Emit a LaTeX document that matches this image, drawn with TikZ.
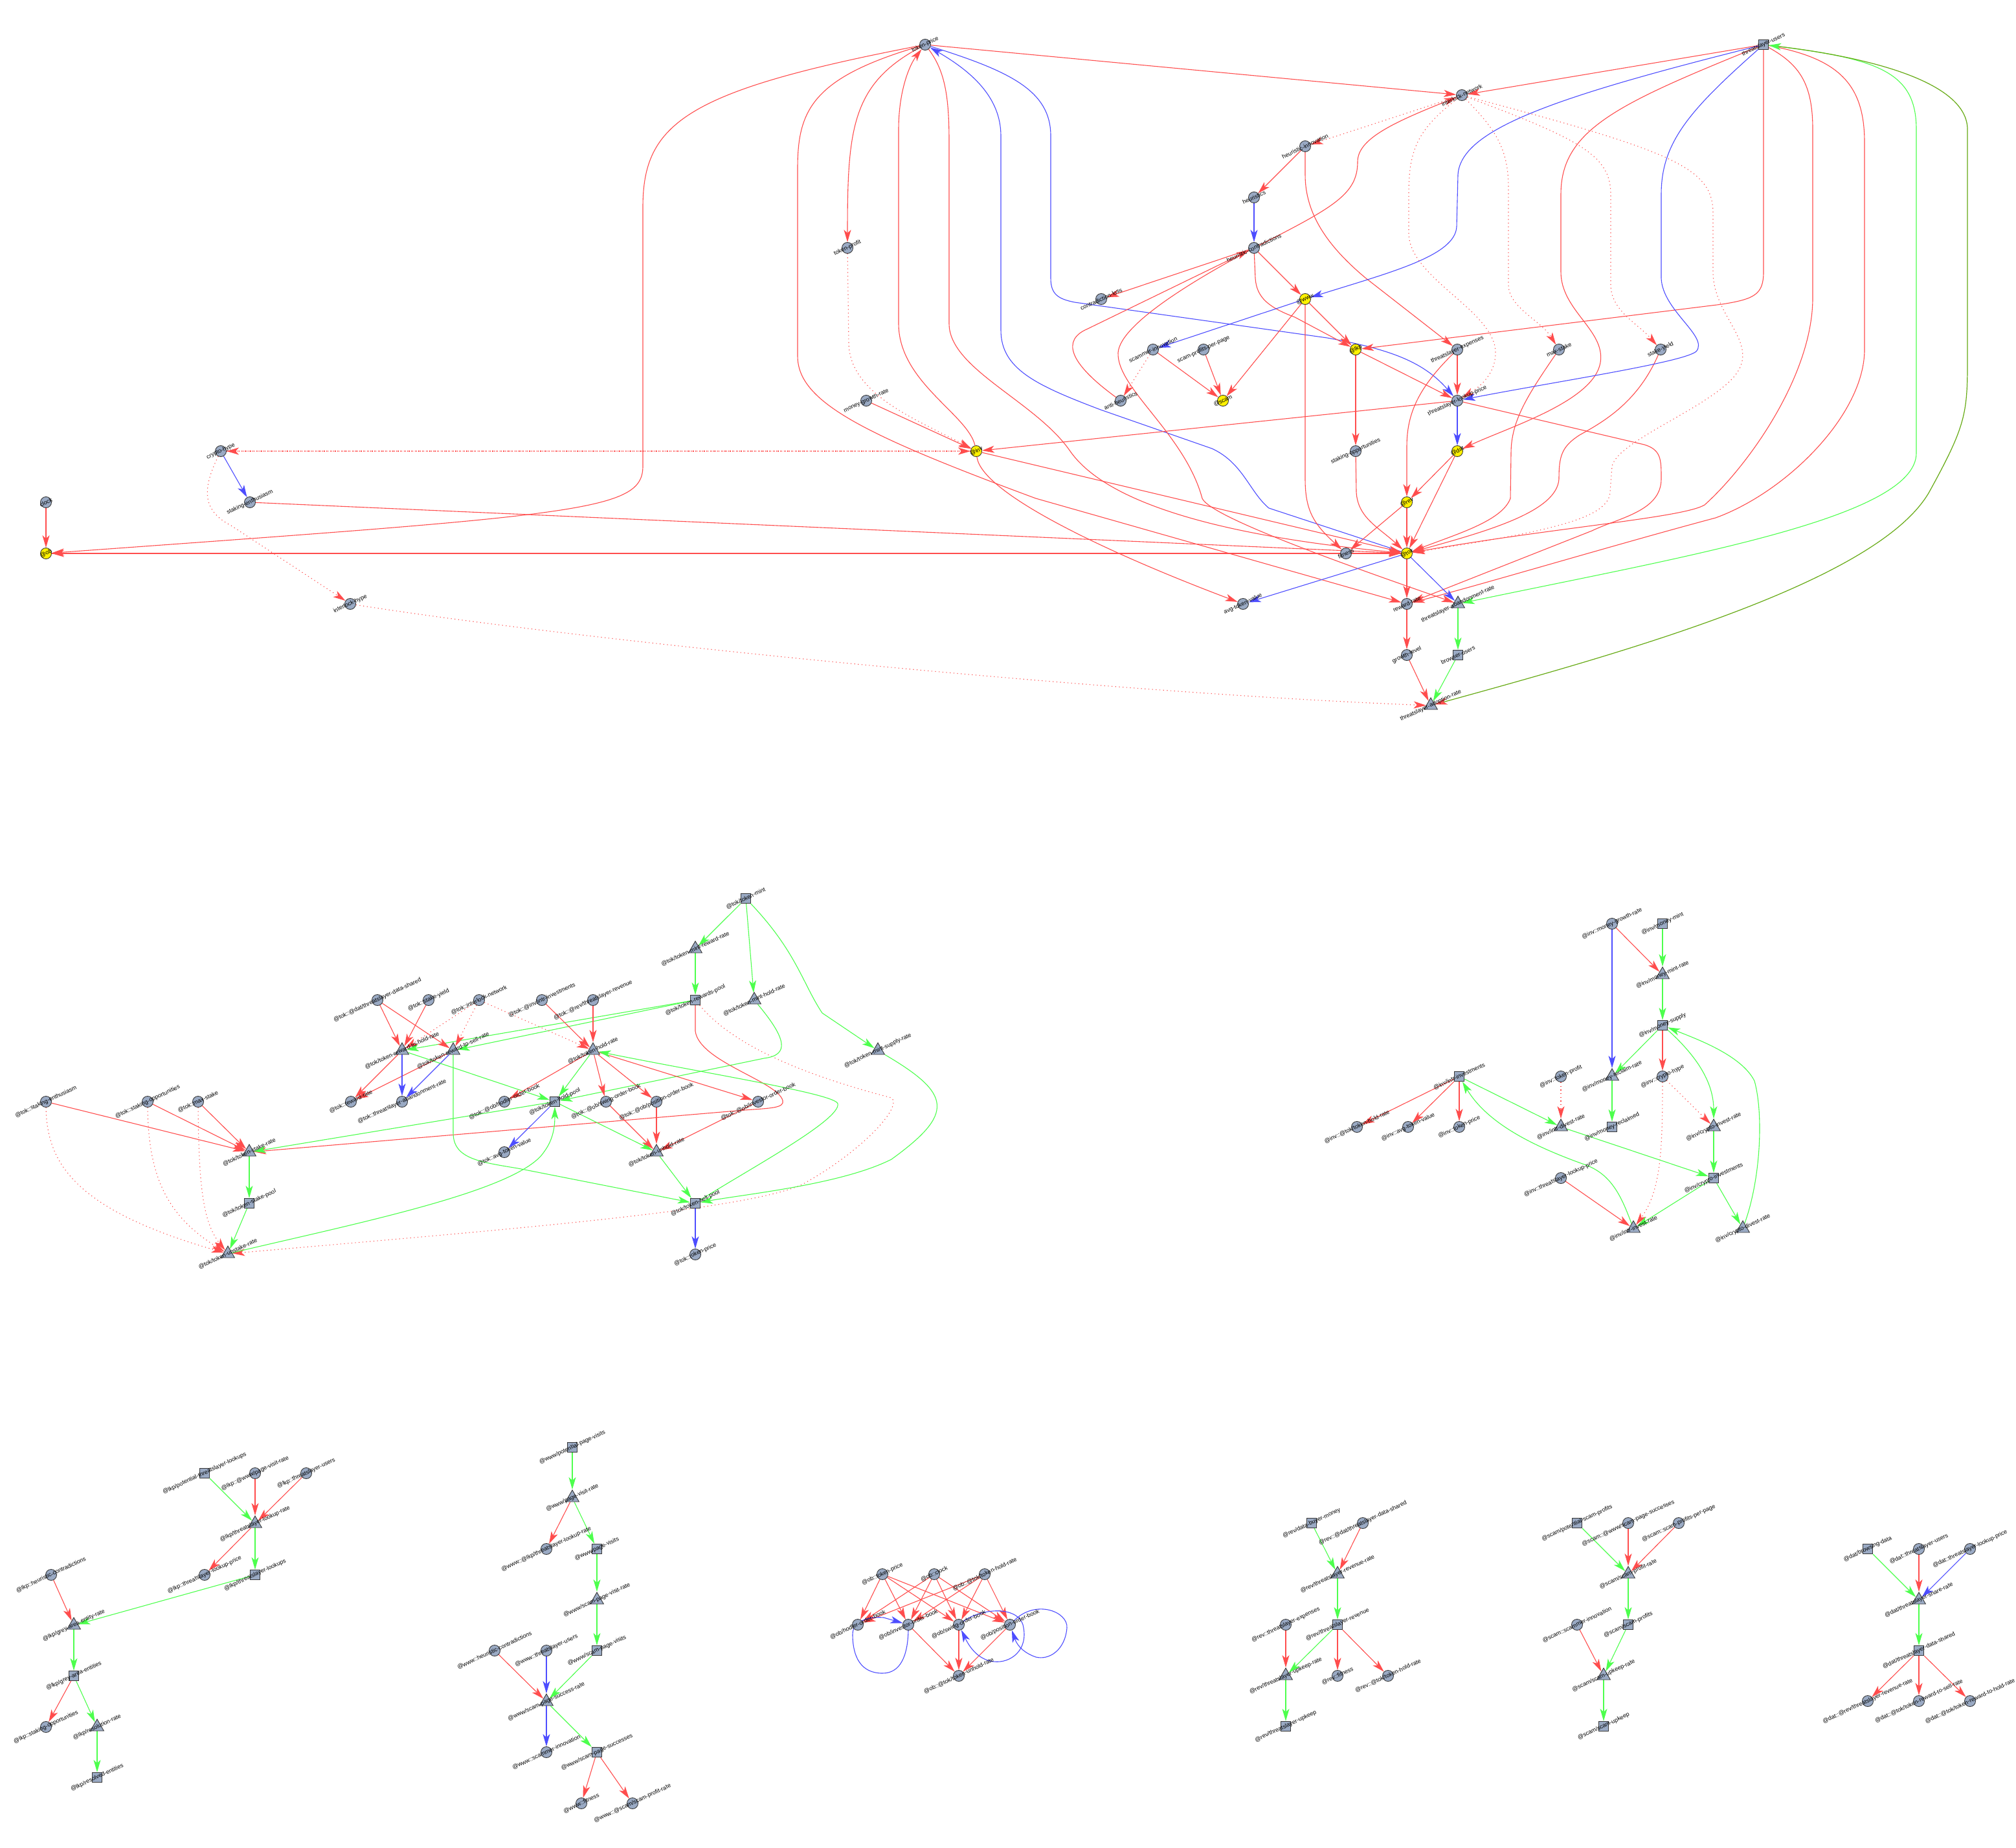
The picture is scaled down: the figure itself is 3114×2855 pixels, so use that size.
\documentclass[tikz,border=0pt]{standalone}
\usepackage{fontspec}
\setmainfont{Liberation Sans}
\usetikzlibrary{arrows.meta,shapes.geometric}
\definecolor{nfill}{RGB}{154,170,196}
\definecolor{nline}{RGB}{55,55,55}
\definecolor{cr}{RGB}{255,77,77}
\definecolor{cg}{RGB}{77,255,77}
\definecolor{cb}{RGB}{77,77,255}
\definecolor{colive}{RGB}{102,170,20}
\pgfdeclarelayer{bg}\pgfdeclarelayer{paper}\pgfsetlayers{paper,bg,main}
\tikzset{
  cn/.style={circle, draw=nline, fill=nfill, line width=0.9pt, minimum size=17pt, inner sep=0pt},
  yn/.style={cn, fill=yellow},
  sn/.style={rectangle, draw=nline, fill=nfill, line width=1.3pt, minimum size=15pt, inner sep=0pt},
  tn/.style={regular polygon, regular polygon sides=3, draw=nline, fill=nfill, line width=0.9pt, minimum size=24pt, inner sep=0pt},
  lb/.style={font=\fontsize{9}{9}\selectfont, rotate=25, inner sep=0pt},
  tipa/.style={-{Stealth[length=19pt,width=11pt,inset=5pt]}},
  re/.style={draw=cr, line width=1.1pt, tipa},
  gr/.style={draw=cg, line width=1.1pt, tipa},
  bl/.style={draw=cb, line width=1.1pt, tipa},
  rd/.style={re, dash pattern=on 1.2pt off 4.5pt},
}
\newcommand{\nd}[4]{\node[#1] (#2) at (#3) {};\node[lb] (#2t) at (#3) {#4};}
\begin{document}
\begin{tikzpicture}[x=1pt,y=-1pt]
\useasboundingbox (0,0) rectangle (3114,2855);
\begin{pgfonlayer}{paper}
\fill[white] (0,0) rectangle (3114,2855);
\end{pgfonlayer}
% ================= TOP GRAPH =================
\nd{cn}{TP}{1429,69}{token-price}
\nd{cn}{IN}{2258,147}{interlock-network}
\nd{sn}{TU}{2724,69}{threatslayer-users}
\nd{cn}{HI}{2016,226}{heuristic-innovation}
\nd{cn}{HE}{1937,305}{heuristics}
\nd{cn}{TPR}{1309,383}{token-profit}
\nd{cn}{HC}{1937,383}{heuristic-contradictions}
\nd{cn}{CL}{1701,462}{contradiction-loss}
\nd{yn}{WWW}{2016,462}{@www}
\nd{cn}{SI}{1781,540}{scammer-innovation}
\nd{cn}{SPP}{1859,540}{scam-profits-per-page}
\nd{yn}{LKP}{2094,540}{@lkp}
\nd{cn}{TE}{2251,540}{threatslayer-expenses}
\nd{cn}{MS}{2408,540}{max-stake}
\nd{cn}{SY}{2565,540}{stake-yield}
\nd{cn}{AH}{1731,619}{anti-heuristics}
\nd{yn}{SCAM}{1889,619}{@scam}
\nd{cn}{MGR}{1338,619}{money-growth-rate}
\nd{cn}{TLP}{2251,619}{threatslayer-lookup-price}
\nd{cn}{CH}{341,697}{crypto-hype}
\nd{yn}{INV}{1508,697}{@inv}
\nd{cn}{SO}{2094,697}{staking-opportunities}
\nd{yn}{DAT}{2251,697}{@dat}
\nd{cn}{SE}{386,776}{staking-enthusiasm}
\nd{cn}{CLK}{71,776}{clock}
\nd{yn}{REV}{2173,776}{@rev}
\nd{yn}{OB}{71,855}{@ob}
\nd{cn}{FIT}{2079,855}{fitness}
\nd{yn}{TOK}{2173,855}{@tok}
\nd{cn}{IH}{541,933}{interlock-hype}
\nd{cn}{ATV}{1920,933}{avg-token-value}
\nd{cn}{RR}{2173,933}{reward-rate}
\nd{tn}{TAR}{2252,933}{threatslayer-abandonment-rate}
\nd{cn}{GL}{2173,1012}{growth-level}
\nd{sn}{BU}{2252,1012}{browser-users}
\nd{tn}{TAD}{2210,1090}{threatslayer-adoption-rate}
% ================= @tok GRAPH =================
\nd{sn}{kmint}{1152,1388}{@tok/token-mint}
\nd{tn}{kmrr}{1074,1466}{@tok/token-mint-reward-rate}
\nd{sn}{krwp}{1074,1545}{@tok/token-rewards-pool}
\nd{tn}{kmhr}{1165,1545}{@tok/token-mint-hold-rate}
\nd{tn}{kmsr}{1356,1623}{@tok/token-mint-supply-rate}
\nd{cn}{kds}{583,1545}{@tok::@dat/threatslayer-data-shared}
\nd{cn}{ksy}{662,1545}{@tok::stake-yield}
\nd{cn}{kin}{740,1545}{@tok::interlock-network}
\nd{cn}{kii}{837,1545}{@tok::@inv/intr-investments}
\nd{cn}{ktr}{916,1545}{@tok::@rev/threatslayer-revenue}
\nd{tn}{krhr}{621,1623}{@tok/token-reward-to-hold-rate}
\nd{tn}{krsr}{700,1623}{@tok/token-reward-to-sell-rate}
\nd{tn}{khr}{916,1623}{@tok/token-hold-rate}
\nd{cn}{kse}{71,1702}{@tok::staking-enthusiasm}
\nd{cn}{kso}{228,1702}{@tok::staking-opportunities}
\nd{cn}{kms}{306,1702}{@tok::max-stake}
\nd{cn}{krr}{542,1702}{@tok::reward-rate}
\nd{cn}{ktar}{621,1702}{@tok::threatslayer-abandonment-rate}
\nd{cn}{khob}{779,1702}{@tok::@ob/hodler-order-book}
\nd{sn}{khp}{857,1702}{@tok/token-hold-pool}
\nd{cn}{ksob}{936,1702}{@tok::@ob/swing-order-book}
\nd{cn}{kpob}{1014,1702}{@tok::@ob/position-order-book}
\nd{cn}{kiob}{1171,1702}{@tok::@ob/investor-order-book}
\nd{tn}{kstr}{385,1780}{@tok/token-stake-rate}
\nd{cn}{katv}{779,1780}{@tok::avg-token-value}
\nd{tn}{kuhr}{1014,1780}{@tok/token-unhold-rate}
\nd{sn}{ksp}{385,1859}{@tok/token-stake-pool}
\nd{sn}{kslp}{1074,1859}{@tok/token-sell-pool}
\nd{tn}{kusr}{352,1937}{@tok/token-unstake-rate}
\nd{cn}{ktp}{1074,1938}{@tok::token-price}
% ================= @inv GRAPH =================
\nd{cn}{vmgr}{2490,1427}{@inv::money-growth-rate}
\nd{sn}{vmm}{2568,1427}{@inv/money-mint}
\nd{tn}{vmmr}{2568,1506}{@inv/money-mint-rate}
\nd{sn}{vms}{2568,1584}{@inv/money-supply}
\nd{sn}{vii}{2254,1663}{@inv/intr-investments}
\nd{cn}{vtp}{2411,1663}{@inv::token-profit}
\nd{tn}{vmrr}{2490,1663}{@inv/money-reclaim-rate}
\nd{cn}{vch}{2568,1663}{@inv::crypto-hype}
\nd{cn}{vthr}{2096,1741}{@inv::@tok/token-hold-rate}
\nd{cn}{vatv}{2175,1741}{@inv::avg-token-value}
\nd{cn}{vtkp}{2254,1741}{@inv::token-price}
\nd{tn}{vidr}{2411,1741}{@inv/intr-divest-rate}
\nd{sn}{vmrd}{2490,1741}{@inv/money-reclaimed}
\nd{tn}{vcir}{2647,1741}{@inv/crypto-invest-rate}
\nd{cn}{vtlp}{2411,1820}{@inv::threatslayer-lookup-price}
\nd{sn}{vci}{2647,1820}{@inv/crypto-investments}
\nd{tn}{viir}{2523,1898}{@inv/intr-invest-rate}
\nd{tn}{vcdr}{2692,1898}{@inv/crypto-divest-rate}
% ================= @lkp GRAPH =================
\nd{sn}{lpot}{316,2276}{@lkp/potential-threatslayer-lookups}
\nd{cn}{lpvr}{394,2276}{@lkp::@www/page-visit-rate}
\nd{cn}{ltu}{473,2276}{@lkp::threatslayer-users}
\nd{tn}{llr}{394,2354}{@lkp/threatslayer-lookup-rate}
\nd{cn}{lhc}{79,2433}{@lkp::heuristic-contradictions}
\nd{cn}{ltlp}{316,2433}{@lkp::threatslayer-lookup-price}
\nd{sn}{llk}{394,2433}{@lkp/threatslayer-lookups}
\nd{tn}{lgar}{114,2511}{@lkp/grey-area-entity-rate}
\nd{sn}{lga}{114,2589}{@lkp/grey-area-entities}
\nd{cn}{lso}{71,2668}{@lkp::staking-opportunities}
\nd{tn}{lrr}{150,2668}{@lkp/resolution-rate}
\nd{sn}{lre}{150,2746}{@lkp/resolved-entities}
% ================= @www GRAPH =================
\nd{sn}{wpot}{884,2236}{@www/potential-page-visits}
\nd{tn}{wpvr}{884,2314}{@www/page-visit-rate}
\nd{cn}{wlr}{844,2393}{@www::@lkp/threatslayer-lookup-rate}
\nd{sn}{wpv}{922,2393}{@www/page-visits}
\nd{tn}{wspvr}{922,2472}{@www/scam-page-visit-rate}
\nd{cn}{whc}{764,2550}{@www::heuristic-contradictions}
\nd{cn}{wtu}{844,2550}{@www::threatslayer-users}
\nd{sn}{wspv}{922,2550}{@www/scam-page-visits}
\nd{tn}{wssr}{844,2629}{@www/scam-page-success-rate}
\nd{cn}{wsi}{844,2707}{@www::scammer-innovation}
\nd{sn}{wsps}{922,2707}{@www/scam-page-successes}
\nd{cn}{wfit}{898,2786}{@www::fitness}
\nd{cn}{wspr}{977,2786}{@www::@scam/scam-profit-rate}
% ================= @ob GRAPH =================
\nd{cn}{otp}{1363,2432}{@ob::token-price}
\nd{cn}{oclk}{1443,2432}{@ob::clock}
\nd{cn}{othr}{1521,2432}{@ob::@tok/token-hold-rate}
\nd{cn}{oh}{1325,2510}{@ob/hodler-order-book}
\nd{cn}{oi}{1403,2510}{@ob/investor-order-book}
\nd{cn}{os}{1481,2510}{@ob/swing-order-book}
\nd{cn}{op}{1560,2510}{@ob/position-order-book}
\nd{cn}{ou}{1481,2589}{@ob::@tok/token-unhold-rate}
% ================= @rev GRAPH =================
\nd{sn}{rdbm}{2026,2353}{@rev/data-buyer-money}
\nd{cn}{rds}{2105,2353}{@rev::@dat/threatslayer-data-shared}
\nd{tn}{rrr}{2066,2432}{@rev/threatslayer-revenue-rate}
\nd{cn}{rte}{1986,2510}{@rev::threatslayer-expenses}
\nd{sn}{rrv}{2066,2510}{@rev/threatslayer-revenue}
\nd{tn}{rur}{1986,2589}{@rev/threatslayer-upkeep-rate}
\nd{cn}{rfit}{2066,2589}{@rev::fitness}
\nd{cn}{rthr}{2144,2589}{@rev::@tok/token-hold-rate}
\nd{sn}{rup}{1986,2667}{@rev/threatslayer-upkeep}
% ================= @scam GRAPH =================
\nd{sn}{spot}{2436,2353}{@scam/potential-scam-profits}
\nd{cn}{ssps}{2515,2353}{@scam::@www/scam-page-successes}
\nd{cn}{sspp}{2593,2353}{@scam::scam-profits-per-page}
\nd{tn}{spr}{2515,2432}{@scam/scam-profit-rate}
\nd{cn}{ssi}{2436,2510}{@scam::scammer-innovation}
\nd{sn}{ssp}{2515,2510}{@scam/scam-profits}
\nd{tn}{sur}{2477,2589}{@scam/scam-upkeep-rate}
\nd{sn}{sup}{2477,2667}{@scam/scam-upkeep}
% ================= @dat GRAPH =================
\nd{sn}{dbd}{2885,2393}{@dat/browsing-data}
\nd{cn}{dtu}{2964,2393}{@dat::threatslayer-users}
\nd{cn}{dtlp}{3043,2393}{@dat::threatslayer-lookup-price}
\nd{tn}{dsr}{2964,2472}{@dat/threatslayer-share-rate}
\nd{sn}{dds}{2964,2550}{@dat/threatslayer-data-shared}
\nd{cn}{drr}{2885,2628}{@dat::@rev/threatslayer-revenue-rate}
\nd{cn}{dss}{2964,2628}{@dat::@tok/token-reward-to-sell-rate}
\nd{cn}{dsh}{3043,2628}{@dat::@tok/token-reward-to-hold-rate}

\begin{pgfonlayer}{bg}
% ---------- top edges ----------
\draw[re] (TP) -- (IN);
\draw[re] (TP) .. controls (1315,130) and (1309,200) .. (TPR);
\draw[re] (TP) .. controls (1060,140) and (993,190) .. (993,320) -- (993,720) .. controls (993,790) and (900,795) .. (OB);
\draw[re] (INV) .. controls (1495,640) and (1388,590) .. (1388,500) -- (1388,200) .. controls (1388,140) and (1405,100) .. (TP);
\draw[re] (TP) .. controls (1255,120) and (1232,170) .. (1232,260) -- (1232,550) .. controls (1232,620) and (1330,670) .. (1600,770) -- (RR);
\draw[re] (TP) .. controls (1460,110) and (1466,150) .. (1466,220) -- (1466,500) .. controls (1466,570) and (1600,620) .. (1653,697) .. controls (1690,750) and (1800,820) .. (TOK);
\draw[bl] (TOK) -- (1960,785) .. controls (1930,760) and (1920,715) .. (1872,693) -- (1700,633) .. controls (1600,595) and (1546,570) .. (1546,510) -- (1546,210) .. controls (1546,150) and (1500,110) .. (TP);
\draw[bl] (TP) .. controls (1560,110) and (1623,140) .. (1623,210) -- (1623,430) .. controls (1623,455) and (1635,462) .. (1660,467) -- (2050,522) .. controls (2150,540) and (2200,560) .. (TLP);
\draw[rd] (TPR) -- (1311,530) .. controls (1312,610) and (1420,650) .. (INV);
\draw[re] (MGR) -- (INV);
\draw[rd] (CH) -- (INV);
\draw[rd] (INV) -- (CH);
\draw[bl] (CH) -- (SE);
\draw[rd] (CH) .. controls (310,760) and (315,790) .. (357,812) -- (IH);
\draw[re] (SE) -- (TOK);
\draw[re] (CLK) -- (OB);
\draw[re] (TOK) -- (OB);
\draw[re] (OB) -- (TOK);
\draw[rd] (IH) .. controls (900,990) and (1700,1070) .. (TAD);
\draw[re] (TU) -- (IN);
\draw[re] (HC) .. controls (2060,320) and (2097,300) .. (2097,250) .. controls (2097,215) and (2150,190) .. (IN);
\draw[rd] (IN) -- (HI);
\draw[re] (HI) -- (HE);
\draw[bl] (HE) -- (HC);
\draw[re] (HI) -- (2016,270) .. controls (2016,330) and (2050,380) .. (2110,430) -- (TE);
\draw[re] (HC) -- (CL);
\draw[re] (AH) .. controls (1650,560) and (1640,525) .. (1680,508) -- (HC);
\draw[re] (HC) -- (WWW);
\draw[re] (HC) -- (1939,430) .. controls (1941,460) and (1960,475) .. (2000,490) -- (LKP);
\draw[re] (HC) .. controls (1850,430) and (1730,500) .. (1727,545) .. controls (1725,600) and (1830,670) .. (1857,770) .. controls (1870,800) and (2100,880) .. (TAR);
\draw[rd] (SI) -- (AH);
\draw[re] (SI) -- (SCAM);
\draw[re] (SPP) -- (SCAM);
\draw[re] (WWW) -- (SCAM);
\draw[bl] (WWW) -- (SI);
\draw[bl] (TU) .. controls (2400,150) and (2256,200) .. (2252,270) -- (2250,350) .. controls (2248,395) and (2150,420) .. (WWW);
\draw[re] (WWW) -- (LKP);
\draw[re] (WWW) -- (2016,740) .. controls (2016,790) and (2030,810) .. (FIT);
\draw[re] (LKP) -- (TLP);
\draw[re] (LKP) -- (SO);
\draw[re] (TE) -- (TLP);
\draw[re] (TE) .. controls (2190,600) and (2173,640) .. (2173,690) -- (REV);
\draw[rd] (IN) .. controls (2190,200) and (2176,230) .. (2176,300) -- (2176,360) .. controls (2176,430) and (2310,480) .. (2310,545) .. controls (2310,575) and (2290,595) .. (TLP);
\draw[rd] (IN) .. controls (2310,200) and (2330,230) .. (2330,290) -- (2330,440) .. controls (2330,475) and (2380,495) .. (MS);
\draw[rd] (IN) .. controls (2440,215) and (2488,240) .. (2488,300) -- (2488,440) .. controls (2488,480) and (2530,500) .. (SY);
\draw[rd] (IN) .. controls (2590,235) and (2646,260) .. (2646,330) -- (2646,420) .. controls (2646,490) and (2720,530) .. (2680,580) .. controls (2640,630) and (2500,680) .. (2490,720) -- (2487,760) .. controls (2485,800) and (2400,820) .. (TOK);
\draw[bl] (TLP) -- (DAT);
\draw[re] (TLP) -- (INV);
\draw[re] (TLP) -- (2540,687) .. controls (2566,695) and (2566,710) .. (2566,740) .. controls (2566,790) and (2500,800) .. (2459,820) -- (RR);
\draw[re] (DAT) -- (REV);
\draw[re] (DAT) -- (TOK);
\draw[re] (SO) -- (2095,760) .. controls (2097,800) and (2130,815) .. (TOK);
\draw[re] (MS) .. controls (2360,610) and (2334,650) .. (2334,700) -- (2333,770) .. controls (2320,805) and (2250,825) .. (TOK);
\draw[re] (SY) .. controls (2530,620) and (2480,650) .. (2440,672) .. controls (2412,690) and (2408,705) .. (2408,740) .. controls (2405,790) and (2300,820) .. (TOK);
\draw[re] (REV) -- (FIT);
\draw[re] (REV) -- (TOK);
\draw[re] (TU) .. controls (2500,160) and (2411,200) .. (2411,300) -- (2411,420) .. controls (2411,480) and (2480,510) .. (2472,560) .. controls (2462,620) and (2330,660) .. (DAT);
\draw[re] (TU) -- (2724,420) .. controls (2724,455) and (2710,462) .. (2660,470) -- (LKP);
\draw[bl] (TU) .. controls (2610,170) and (2566,220) .. (2566,300) -- (2566,430) .. controls (2568,480) and (2640,520) .. (2620,543) .. controls (2600,560) and (2400,590) .. (TLP);
\draw[re] (TU) .. controls (2780,100) and (2800,130) .. (2800,200) -- (2800,460) .. controls (2800,580) and (2700,720) .. (2633,780) .. controls (2600,800) and (2400,815) .. (TOK);
\draw[re] (TU) .. controls (2840,90) and (2880,130) .. (2880,220) -- (2880,540) .. controls (2880,640) and (2760,760) .. (2650,800) .. controls (2500,840) and (2300,900) .. (RR);
\draw[gr] (TU) .. controls (2900,90) and (2960,110) .. (2960,200) -- (2960,700) .. controls (2960,800) and (2600,860) .. (TAR);
\draw[draw=colive, line width=1.2pt, {Stealth[length=19pt,width=11pt,inset=5pt,color=cr]}-{Stealth[length=19pt,width=11pt,inset=5pt,color=cg]}] (TAD) .. controls (2500,1010) and (2900,900) .. (2980,760) .. controls (3035,660) and (3039,640) .. (3039,560) -- (3039,200) .. controls (3039,130) and (2900,90) .. (TU);
\draw[bl] (TOK) -- (TAR);
\draw[bl] (TOK) -- (ATV);
\draw[re] (TOK) -- (RR);
\draw[re] (RR) -- (GL);
\draw[re] (GL) -- (TAD);
\draw[gr] (TAR) -- (BU);
\draw[gr] (BU) -- (TAD);
\draw[re] (INV) .. controls (1515,760) and (1700,850) .. (ATV);
\draw[re] (INV) -- (TOK);
% ---------- @tok edges ----------
\draw[gr] (kmint) -- (kmrr);
\draw[gr] (kmint) -- (kmhr);
\draw[gr] (kmint) .. controls (1230,1470) and (1240,1520) .. (1270,1565) -- (kmsr);
\draw[gr] (kmrr) -- (krwp);
\draw[gr] (krwp) -- (krhr);
\draw[gr] (krwp) -- (krsr);
\draw[re] (krwp) -- (1074,1593) .. controls (1080,1640) and (1200,1670) .. (1209,1700) .. controls (1212,1712) and (1190,1712) .. (1150,1715) -- (kstr);
\draw[rd] (krwp) .. controls (1120,1600) and (1200,1650) .. (1377,1696) .. controls (1395,1710) and (1330,1780) .. (1239,1830) .. controls (1150,1870) and (800,1898) .. (kusr);
\draw[gr] (kmhr) .. controls (1215,1605) and (1220,1630) .. (1180,1635) -- (khp);
\draw[gr] (kmsr) .. controls (1470,1690) and (1475,1720) .. (1377,1791) .. controls (1300,1830) and (1150,1845) .. (kslp);
\draw[re] (kii) -- (khr);
\draw[re] (ktr) -- (khr);
\draw[rd] (kin) -- (khr);
\draw[re] (kds) -- (krhr);
\draw[re] (kds) -- (krsr);
\draw[re] (ksy) -- (krhr);
\draw[rd] (kin) -- (krhr);
\draw[rd] (kin) -- (krsr);
\draw[re] (krhr) -- (krr);
\draw[re] (krsr) -- (krr);
\draw[bl] (krhr) -- (ktar);
\draw[bl] (krsr) -- (ktar);
\draw[gr] (krhr) -- (khp);
\draw[gr] (krsr) -- (700,1750) .. controls (700,1790) and (740,1795) .. (800,1805) -- (kslp);
\draw[gr] (khp) -- (kstr);
\draw[re] (kse) -- (kstr);
\draw[re] (kso) -- (kstr);
\draw[re] (kms) -- (kstr);
\draw[rd] (kse) .. controls (72,1800) and (120,1870) .. (kusr);
\draw[rd] (kso) .. controls (229,1820) and (260,1880) .. (kusr);
\draw[rd] (kms) .. controls (307,1840) and (315,1890) .. (kusr);
\draw[gr] (kstr) -- (ksp);
\draw[gr] (ksp) -- (kusr);
\draw[gr] (kusr) .. controls (550,1890) and (800,1840) .. (840,1780) .. controls (855,1760) and (857,1740) .. (khp);
\draw[gr] (khr) -- (khp);
\draw[re] (khr) -- (khob);
\draw[re] (khr) -- (ksob);
\draw[re] (khr) -- (kpob);
\draw[re] (khr) -- (kiob);
\draw[bl] (khp) -- (katv);
\draw[gr] (khp) -- (kuhr);
\draw[re] (ksob) -- (kuhr);
\draw[re] (kpob) -- (kuhr);
\draw[re] (kiob) -- (kuhr);
\draw[gr] (kuhr) -- (kslp);
\draw[gr] (kslp) .. controls (1150,1810) and (1300,1730) .. (1294,1705) .. controls (1290,1690) and (1100,1660) .. (khr);
\draw[bl] (kslp) -- (ktp);
% ---------- @inv edges ----------
\draw[bl] (vmgr) -- (vmrr);
\draw[re] (vmgr) -- (vmmr);
\draw[gr] (vmm) -- (vmmr);
\draw[gr] (vmmr) -- (vms);
\draw[gr] (vms) -- (vmrr);
\draw[re] (vms) -- (vch);
\draw[gr] (vms) .. controls (2630,1640) and (2647,1680) .. (vcir);
\draw[gr] (vcdr) .. controls (2720,1820) and (2724,1720) .. (2710,1670) .. controls (2690,1630) and (2620,1605) .. (vms);
\draw[gr] (vmrr) -- (vmrd);
\draw[rd] (vch) -- (vcir);
\draw[rd] (vch) .. controls (2568,1780) and (2565,1840) .. (viir);
\draw[rd] (vtp) -- (vidr);
\draw[gr] (vii) -- (vidr);
\draw[re] (vii) -- (vthr);
\draw[re] (vii) -- (vatv);
\draw[re] (vii) -- (vtkp);
\draw[gr] (vidr) -- (vci);
\draw[gr] (vcir) -- (vci);
\draw[gr] (vci) -- (viir);
\draw[gr] (vci) -- (vcdr);
\draw[re] (vtlp) -- (viir);
\draw[gr] (viir) .. controls (2505,1850) and (2490,1815) .. (2450,1800) .. controls (2380,1775) and (2300,1740) .. (vii);
% ---------- @lkp edges ----------
\draw[gr] (lpot) -- (llr);
\draw[re] (lpvr) -- (llr);
\draw[re] (ltu) -- (llr);
\draw[re] (llr) -- (ltlp);
\draw[gr] (llr) -- (llk);
\draw[gr] (llk) -- (lgar);
\draw[re] (lhc) -- (lgar);
\draw[gr] (lgar) -- (lga);
\draw[re] (lga) -- (lso);
\draw[gr] (lga) -- (lrr);
\draw[gr] (lrr) -- (lre);
% ---------- @www edges ----------
\draw[gr] (wpot) -- (wpvr);
\draw[re] (wpvr) -- (wlr);
\draw[gr] (wpvr) -- (wpv);
\draw[gr] (wpv) -- (wspvr);
\draw[gr] (wspvr) -- (wspv);
\draw[gr] (wspv) -- (wssr);
\draw[re] (whc) -- (wssr);
\draw[bl] (wtu) -- (wssr);
\draw[bl] (wssr) -- (wsi);
\draw[gr] (wssr) -- (wsps);
\draw[re] (wsps) -- (wfit);
\draw[re] (wsps) -- (wspr);
% ---------- @ob edges ----------
\foreach \a in {otp,oclk,othr}{\foreach \b in {oh,oi,os,op}{\draw[re] (\a) -- (\b);}}
\draw[re] (oi) -- (ou);
\draw[re] (os) -- (ou);
\draw[re] (op) -- (ou);
\draw[bl] (oi.south) .. controls (1402,2560) and (1390,2585) .. (1363,2585) .. controls (1330,2585) and (1317,2560) .. (1317,2525) .. controls (1317,2505) and (1340,2497) .. (1365,2499) -- (oi);
\draw[bl] (os) .. controls (1515,2485) and (1570,2480) .. (1580,2510) .. controls (1590,2550) and (1560,2570) .. (1535,2567) .. controls (1515,2565) and (1500,2550) .. (os);
\draw[bl] (op) .. controls (1600,2470) and (1650,2490) .. (1648,2515) .. controls (1645,2550) and (1620,2565) .. (1600,2560) .. controls (1585,2555) and (1572,2545) .. (op);
% ---------- @rev edges ----------
\draw[gr] (rdbm) -- (rrr);
\draw[re] (rds) -- (rrr);
\draw[gr] (rrr) -- (rrv);
\draw[re] (rte) -- (rur);
\draw[gr] (rrv) -- (rur);
\draw[re] (rrv) -- (rfit);
\draw[re] (rrv) -- (rthr);
\draw[gr] (rur) -- (rup);
% ---------- @scam edges ----------
\draw[gr] (spot) -- (spr);
\draw[re] (ssps) -- (spr);
\draw[re] (sspp) -- (spr);
\draw[gr] (spr) -- (ssp);
\draw[re] (ssi) -- (sur);
\draw[gr] (ssp) -- (sur);
\draw[gr] (sur) -- (sup);
% ---------- @dat edges ----------
\draw[gr] (dbd) -- (dsr);
\draw[re] (dtu) -- (dsr);
\draw[bl] (dtlp) -- (dsr);
\draw[gr] (dsr) -- (dds);
\draw[re] (dds) -- (drr);
\draw[re] (dds) -- (dss);
\draw[re] (dds) -- (dsh);
\end{pgfonlayer}
\end{tikzpicture}
\end{document}
